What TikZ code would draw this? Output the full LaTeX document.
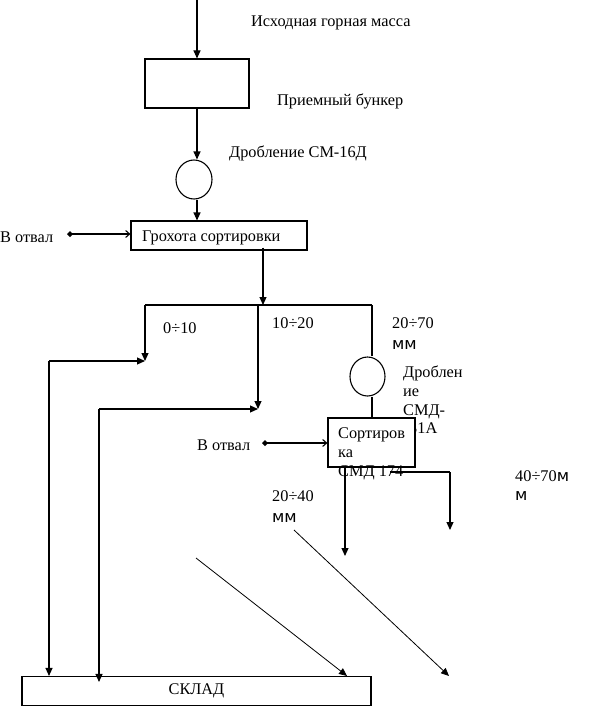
\documentclass[tikz,border=0pt]{standalone}
\usepackage{fontspec}
\setmainfont{Liberation Serif}
\newfontfamily\sansmm{DejaVu Sans}
\usetikzlibrary{arrows.meta,shapes.geometric}
\begin{document}
\begin{tikzpicture}[x=1pt,y=-1pt,
 every node/.style={font=\fontsize{16.3}{18.7}\selectfont},
 box/.style={draw,line width=1.1pt,inner sep=0pt},
 oval/.style={draw,ellipse,line width=1.1pt,inner sep=0pt},
 lbl/.style={anchor=base west,inner sep=0pt},
 mlbl/.style={anchor=north west,inner sep=0pt,align=left},
 ln/.style={line width=1.1pt},
 arr/.style={ln,-{Triangle[length=8pt,width=7pt]}},
 dump/.style={ln,{Diamond[length=6pt,width=6pt]}-{Straight Barb[length=4pt,width=7pt]}},
 diag/.style={line width=0.8pt,-{Triangle[length=8pt,width=7pt]}}]
\useasboundingbox (0,0) rectangle (591,706);

% text labels
\node[lbl] (t1) at (251,27) {Исходная горная масса};
\node[lbl] (t2) at (277,106) {Приемный бункер};
\node[lbl] (t3) at (229,157) {Дробление СМ-16Д};
\node[lbl] (t4) at (0,242) {В отвал};
\node[lbl] (t5) at (163,333) {0÷10};
\node[lbl] (t6) at (272,328) {10÷20};
\node[mlbl] (t7) at (392,317) {20÷70\\[3pt]{\sansmm мм}};
\node[mlbl] (t8) at (403,366) {Дроблен\\ие\\СМД-\\\hspace*{6pt}31А};
\node[lbl] (t9) at (197,450) {В отвал};
\node[mlbl] (t10) at (515,470) {40÷70{\sansmm м}\\[1pt]{\sansmm м}};
\node[mlbl] (t11) at (272,490) {20÷40\\[3pt]{\sansmm мм}};

% blocks
\node[box,minimum width=104pt,minimum height=49pt] (bunker) at (197,83.5) {};
\node[oval,minimum width=36pt,minimum height=39pt] (c1) at (194,179.5) {};
\node[box,minimum width=176pt,minimum height=29pt] (grok) at (219,235.5) {};
\node[lbl] (grokt) at (142,241) {Грохота сортировки};
\node[oval,minimum width=35pt,minimum height=39pt] (c2) at (367.5,376.5) {};
\node[box,fill=white,minimum width=87pt,minimum height=49pt] (sort) at (371.5,442.5) {};
\node[mlbl] (sortt) at (338,428) {Сортиров\\ка\\СМД 174};
\node[box,minimum width=349pt,minimum height=29pt] (sklad) at (196.5,691) {};
\node[inner sep=0pt] (skladt) at (196.5,691) {СКЛАД};

% junction coordinates
\coordinate (top) at (197,0);
\coordinate (jL) at (145,305);
\coordinate (jA) at (263,305);
\coordinate (jM) at (258,305);
\coordinate (jR) at (372,305);
\coordinate (eL) at (145,361);
\coordinate (cL) at (49,361);
\coordinate (eM) at (258,409);
\coordinate (cM) at (99,409);
\coordinate (d1) at (67,234);
\coordinate (d2) at (262,443);
\coordinate (h1) at (390,472);
\coordinate (h2) at (450,472);
\coordinate (e40) at (450,530);
\coordinate (e20) at (345,556);
\coordinate (s1) at (196,558);
\coordinate (s2) at (294,530);
\coordinate (f2) at (449,676);

% connectors
\draw[arr] (top) -- (bunker.north -| top);
\draw[arr] (bunker.south -| top) -- (c1.north -| top);
\draw[arr] (c1.south -| top) -- (grok.north -| top);
\draw[dump] (d1) -- (grok.west |- d1);
\draw[arr] (grok.south -| jA) ++(0,-3) -- (jA);
\draw[ln] (jL) -- (jR);
\draw[arr] (jL) -- (eL);
\draw[arr] (jM) -- (eM);
\draw[ln] (jR) -- (c2.north -| jR);
\draw[ln] (c2.south -| jR) -- (sort.north -| jR);
\draw[arr] (cL) -- (eL);
\draw[arr] (cL) -- (sklad.north -| cL);
\draw[arr] (cM) -- (eM);
\draw[arr] (cM) -- ([yshift=-6pt]sklad.north -| cM);
\draw[dump] (d2) -- (sort.west |- d2);
\draw[arr] (sort.south -| e20) -- (e20);
\draw[ln] (h1) -- (h2);
\draw[arr] (h2) -- (e40);
\draw[diag] (s1) -- (sklad.north -| 347,0);
\draw[diag] (s2) -- (f2);
\end{tikzpicture}
\end{document}
